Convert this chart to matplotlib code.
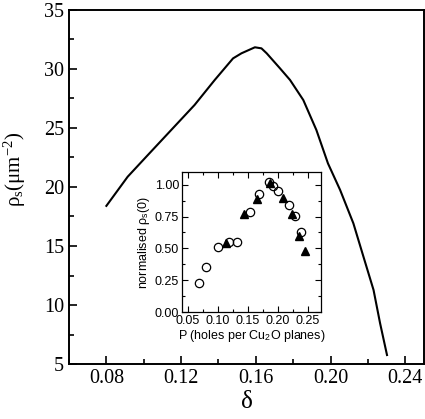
import matplotlib
import numpy as np

matplotlib.use('Agg')
import matplotlib.pyplot as plt

plt.rcParams['mathtext.fontset'] = 'custom'
plt.rcParams['mathtext.rm'] = 'Liberation Serif'
plt.rcParams['mathtext.it'] = 'Liberation Serif:italic'
plt.rcParams['mathtext.sf'] = 'Liberation Sans'

# main curve: superfluid density vs doping
delta = [0.080, 0.0914, 0.1022, 0.1147, 0.1272, 0.138, 0.1478, 0.1523, 0.1595,
         0.163, 0.1658, 0.1729, 0.1783, 0.1854, 0.1924, 0.1986, 0.2051, 0.2122,
         0.2176, 0.223, 0.2265, 0.2302]
rho = [18.4, 20.87, 22.71, 24.83, 26.95, 29.07, 30.9, 31.33, 31.84,
       31.75, 31.33, 30.06, 29.07, 27.37, 24.83, 22.0, 19.75, 16.92,
       14.09, 11.27, 8.45, 5.76]

# inset: normalised rho_s(0) vs P
p_circ = [0.068, 0.080, 0.100, 0.119, 0.131, 0.153, 0.169, 0.1845, 0.192,
          0.201, 0.219, 0.228, 0.239]
n_circ = [0.224, 0.355, 0.513, 0.548, 0.548, 0.785, 0.927, 1.021, 0.99,
          0.953, 0.837, 0.758, 0.631]
p_tri = [0.113, 0.143, 0.1645, 0.1867, 0.208, 0.223, 0.2345, 0.2445]
n_tri = [0.54, 0.769, 0.884, 1.013, 0.895, 0.769, 0.60, 0.479]

serif = 'Liberation Serif'
sans = 'Liberation Sans'

fig = plt.figure(figsize=(4.25, 4.19), dpi=100)
ax = fig.add_axes([69/425, 55/419, 355/425, 354/419])
ax.plot(delta, rho, color='k', lw=1.5)
ax.set_xlim(0.06, 0.25)
ax.set_ylim(5, 35)
ax.set_xticks([0.08, 0.12, 0.16, 0.20, 0.24])
ax.set_xticklabels(['0.08', '0.12', '0.16', '0.20', '0.24'])
ax.set_xticks(np.arange(0.06, 0.25, 0.02), minor=True)
ax.set_yticks(np.arange(5, 36, 5))
ax.set_yticks(np.arange(7.5, 35, 5), minor=True)
ax.tick_params(which='both', direction='in', top=False, right=False, width=1.2)
ax.tick_params(which='major', length=6, labelsize=14.5)
ax.tick_params(which='minor', length=3.5)
for lab in ax.get_xticklabels() + ax.get_yticklabels():
    lab.set_family(serif)
for s in ax.spines.values():
    s.set_linewidth(1.4)
ax.set_xlabel('δ', family=serif, fontsize=18, labelpad=2)
ax.set_ylabel(r'ρ$_\mathrm{s}$(μm$^\mathrm{-2}$)', family=serif, fontsize=15)
ax.yaxis.set_label_coords(-0.115, 0.55)

ins = fig.add_axes([182/425, 107/419, 139/425, 140/419])
ins.plot(p_circ, n_circ, 'o', mfc='none', mec='k', ms=6, mew=0.9)
ins.plot(p_tri, n_tri, '^', color='k', ms=5.5)
ins.set_xlim(0.04, 0.272)
ins.set_ylim(0, 1.1)
ins.set_xticks([0.05, 0.10, 0.15, 0.20, 0.25])
ins.set_xticklabels(['0.05', '0.10', '0.15', '0.20', '0.25'])
ins.set_xticks(np.arange(0.075, 0.27, 0.05), minor=True)
ins.set_yticks([0, 0.25, 0.5, 0.75, 1.0])
ins.set_yticklabels(['0.00', '0.25', '0.50', '0.75', '1.00'])
ins.set_yticks(np.arange(0.125, 1.1, 0.25), minor=True)
ins.tick_params(which='both', direction='in', top=True, right=True, width=0.8)
ins.tick_params(which='major', length=4, labelsize=9, pad=2)
ins.tick_params(which='minor', length=2)
for lab in ins.get_xticklabels() + ins.get_yticklabels():
    lab.set_family(sans)
for s in ins.spines.values():
    s.set_linewidth(0.9)
ins.set_xlabel(r'P (holes per Cu$_\mathsf{2}$O planes)', family=sans, fontsize=9, labelpad=1)
ins.set_ylabel(r'normalised ρ$_\mathsf{s}$(0)', family=sans, fontsize=9, labelpad=2)

fig.savefig('out.png', dpi=100)
